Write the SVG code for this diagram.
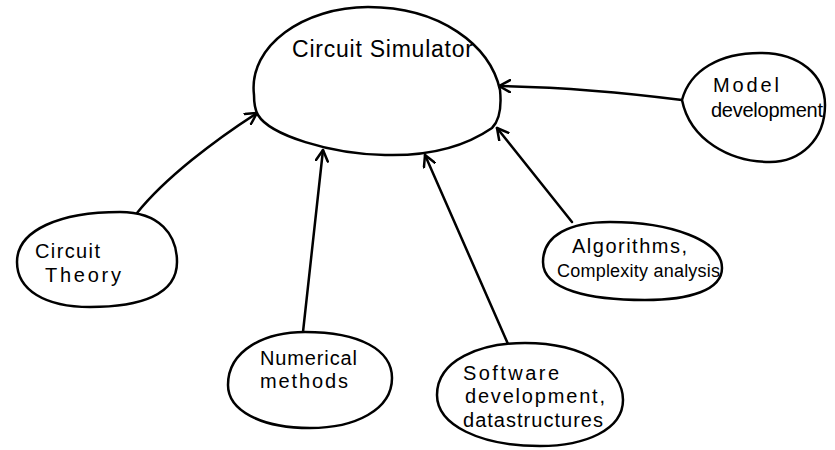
<svg xmlns="http://www.w3.org/2000/svg" width="835" height="450" viewBox="0 0 835 450">
<style>
.n{fill:#fff;stroke:#000;stroke-width:2.5;stroke-linejoin:round}
.c{fill:none;stroke:#000;stroke-width:2.5;stroke-linecap:round}
text{font-family:"Liberation Sans","DejaVu Sans",sans-serif;font-size:20px;fill:#000}
</style>
<defs>
<marker id="ah" viewBox="-12 -7 14 14" markerWidth="14" markerHeight="14" refX="0" refY="0" orient="auto" markerUnits="userSpaceOnUse">
<path d="M-11,-6 L0,0 L-11,6" fill="none" stroke="#000" stroke-width="2.5" stroke-linecap="round" stroke-linejoin="round"/>
</marker>
</defs>
<rect width="835" height="450" fill="#fff"/>
<g id="connectors">
<path class="c" d="M137,213 C165,178 215,140 257,113" marker-end="url(#ah)"/>
<path class="c" d="M303,332 L323,150" marker-end="url(#ah)"/>
<path class="c" d="M508,344 L425,155" marker-end="url(#ah)"/>
<path class="c" d="M572,222 L497,128" marker-end="url(#ah)"/>
<path class="c" d="M682,100 C620,92 560,87 499,86" marker-end="url(#ah)"/>
</g>
<g id="circuit-simulator">
<path class="n" d="M254,95 C248,45 305,7 368,7 C440,7 490,45 500,90 C502,110 498,122 492,128 C460,150 420,156 385,155 C330,154 270,135 258,115 C254,108 254,100 254,95 Z"/>
<text x="292" y="57" style="font-size:23px" textLength="181" lengthAdjust="spacing">Circuit Simulator</text>
</g>
<g id="model-development">
<path class="n" d="M682,100 C690,70 720,53 760,53 C800,53 825,75 825,105 C825,140 800,162 770,162 C730,162 690,140 682,100 Z"/>
<text x="713" y="92" textLength="66" lengthAdjust="spacing">Model</text>
<text x="711" y="117" textLength="112" lengthAdjust="spacing">development</text>
</g>
<g id="circuit-theory">
<path class="n" d="M17,262 C17,230 60,212 120,212 C160,212 177,235 177,262 C177,295 140,307 90,307 C45,307 17,290 17,262 Z"/>
<text x="35" y="258" textLength="65" lengthAdjust="spacing">Circuit</text>
<text x="45" y="282" textLength="76" lengthAdjust="spacing">Theory</text>
</g>
<g id="numerical-methods">
<path class="n" d="M228,385 C228,350 265,332 305,332 C360,332 392,350 392,378 C392,410 355,428 310,428 C260,428 228,410 228,385 Z"/>
<text x="260" y="365" textLength="97" lengthAdjust="spacing">Numerical</text>
<text x="260" y="388" textLength="88" lengthAdjust="spacing">methods</text>
</g>
<g id="software-development">
<path class="n" d="M437,395 C437,360 480,343 525,343 C585,343 623,370 623,400 C623,430 585,446 540,446 C480,446 437,425 437,395 Z"/>
<text x="463" y="380" textLength="96" lengthAdjust="spacing">Software</text>
<text x="465" y="403" textLength="140" lengthAdjust="spacing">development,</text>
<text x="463" y="427" textLength="140" lengthAdjust="spacing">datastructures</text>
</g>
<g id="algorithms">
<path class="n" d="M543,262 C543,235 570,222 610,222 C670,222 722,240 722,268 C722,290 690,300 645,300 C590,300 543,290 543,262 Z"/>
<text x="572" y="253" textLength="115" lengthAdjust="spacing">Algorithms,</text>
<text x="557" y="277" style="font-size:18px" textLength="163" lengthAdjust="spacing">Complexity analysis</text>
</g>
</svg>
